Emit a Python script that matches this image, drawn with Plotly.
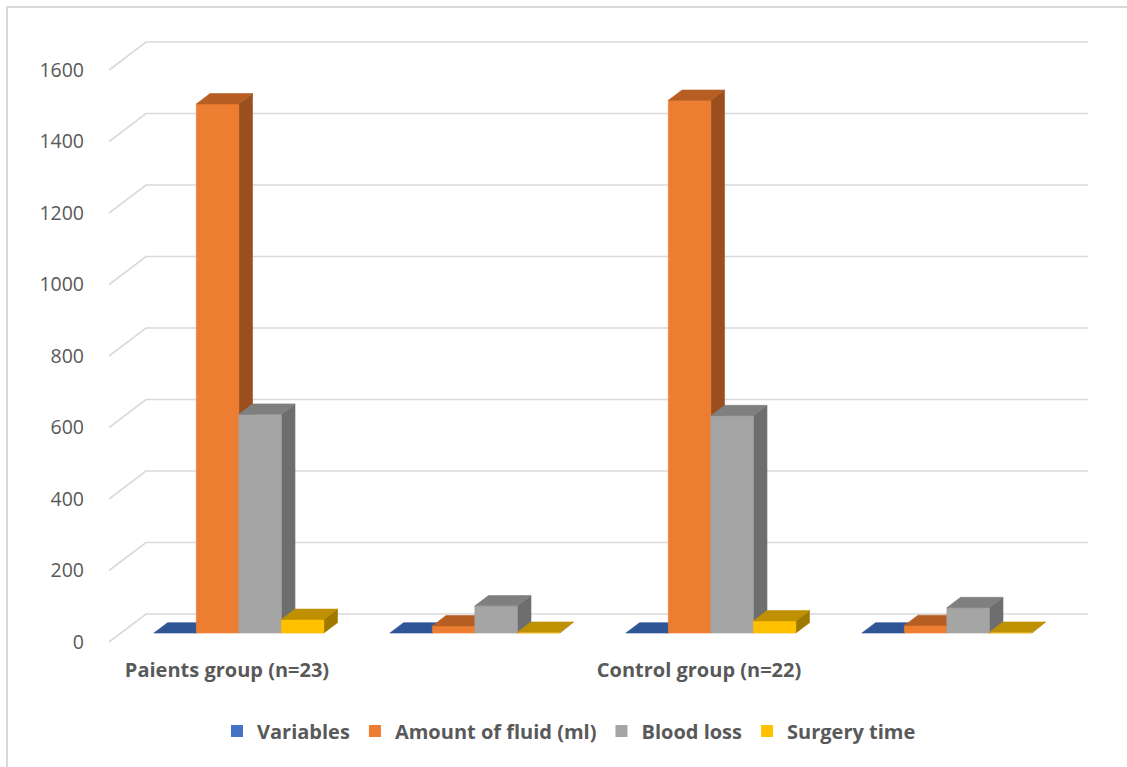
import plotly.graph_objects as go

# ---- data -------------------------------------------------------------
categories = ["Paients group (n=23)", "", "Control group (n=22)", ""]
series_names = ["Variables", "Amount of fluid (ml)", "Blood loss", "Surgery time"]
variables = [0, 0, 0, 0]
amount_of_fluid = [1480, 20, 1490, 21]
blood_loss = [612, 76, 608, 71]
surgery_time = [38, 2, 34, 2]
y_ticks = [0, 200, 400, 600, 800, 1000, 1200, 1400, 1600]

series_values = [variables, amount_of_fluid, blood_loss, surgery_time]

# face colours per series: (front, top, side)
face_colors = [
    ("#4472C4", "#2F5597", "#264478"),
    ("#ED7D31", "#B65E23", "#9B4F1E"),
    ("#A5A5A5", "#7F7F7F", "#6E6E6E"),
    ("#FFC000", "#BF9000", "#A07800"),
]

# ---- layout geometry (pixels) -----------------------------------------
W, H = 1127, 767
plot_left, plot_right = 109, 1088
plot_top, plot_bottom = 34, 649
zero_px = 642            # pixel row of value 0 on the front plane
px_per_unit = 0.3575     # vertical pixels per value unit
px_per_cat = 236         # horizontal pixels per category
depth_dx_px, depth_dy_px = 37, 28   # front-to-back oblique offset

DX = depth_dx_px / px_per_cat        # depth offset in x data units
DY = depth_dy_px / px_per_unit       # depth offset in y data units
f0, f1 = 0.32, 0.69                  # bar depth span (fraction of floor depth)
BW = 0.18                            # bar width in category units
n_series = len(series_values)

x_range = [-0.5, -0.5 + (plot_right - plot_left) / px_per_cat]
y_range = [(zero_px - plot_bottom) / px_per_unit, (zero_px - plot_top) / px_per_unit]

fig = go.Figure()

# back-wall gridlines with the oblique floor edge on the left
for t in y_ticks:
    fig.add_trace(go.Scatter(
        x=[-0.5, -0.5 + DX, len(categories) - 0.5 + DX],
        y=[t, t + DY, t + DY],
        mode="lines", line=dict(color="#D9D9D9", width=1.6),
        hoverinfo="skip", showlegend=False))


def poly(xs, ys, color):
    fig.add_trace(go.Scatter(
        x=xs + [xs[0]], y=ys + [ys[0]], mode="lines", fill="toself",
        fillcolor=color, line=dict(color=color, width=0.6),
        hoverinfo="skip", showlegend=False))


ddx = DX * (f1 - f0)
ddy = DY * (f1 - f0)
for g in range(len(categories)):
    for s in range(n_series):
        v = series_values[s][g]
        front, top, side = face_colors[s]
        x0 = g + DX * f0 - BW * n_series / 2 + s * BW
        x1 = x0 + BW
        yb = DY * f0
        yt = v + DY * f0
        # right side face
        poly([x1, x1 + ddx, x1 + ddx, x1], [yb, yb + ddy, yt + ddy, yt], side)
        # front face
        if v > 0:
            poly([x0, x1, x1, x0], [yb, yb, yt, yt], front)
        # top face
        poly([x0, x1, x1 + ddx, x0 + ddx], [yt, yt, yt + ddy, yt + ddy], top)

# legend entries
for s, name in enumerate(series_names):
    fig.add_trace(go.Scatter(
        x=[None], y=[None], mode="markers", name=name,
        marker=dict(symbol="square", size=12, color=face_colors[s][0])))

text_color = "#595959"
font_family = "Open Sans"


def px_to_paper_x(px):
    return (px - plot_left) / (plot_right - plot_left)


def px_to_paper_y(py):
    return (plot_bottom - py) / (plot_bottom - plot_top)


# chart frame (left and top edges)
fig.add_shape(type="line", xref="paper", yref="paper",
              x0=px_to_paper_x(7), x1=px_to_paper_x(7),
              y0=px_to_paper_y(6), y1=px_to_paper_y(H + 5),
              line=dict(color="#D9D9D9", width=2))
fig.add_shape(type="line", xref="paper", yref="paper",
              x0=px_to_paper_x(6), x1=px_to_paper_x(W + 5),
              y0=px_to_paper_y(7), y1=px_to_paper_y(7),
              line=dict(color="#D9D9D9", width=2))

fig.update_layout(
    width=W, height=H,
    margin=dict(l=plot_left, r=W - plot_right, t=plot_top, b=H - plot_bottom),
    paper_bgcolor="white", plot_bgcolor="white",
    showlegend=True,
    legend=dict(orientation="h", x=px_to_paper_x(569), xanchor="center",
                y=px_to_paper_y(731), yanchor="middle",
                font=dict(family=font_family, size=20, color=text_color, weight="bold"),
                itemclick=False, itemdoubleclick=False),
    xaxis=dict(range=x_range, showgrid=False, zeroline=False, showline=False,
               tickmode="array", tickvals=list(range(len(categories))),
               ticktext=categories, ticks="", ticklabelstandoff=7,
               tickfont=dict(family=font_family, size=20, color=text_color, weight="bold")),
    yaxis=dict(range=y_range, showgrid=False, zeroline=False, showline=False,
               tickmode="array", tickvals=y_ticks, ticks="",
               ticklabelstandoff=24,
               tickfont=dict(family=font_family, size=19.5, color=text_color)),
)

fig.write_html("out.html")
